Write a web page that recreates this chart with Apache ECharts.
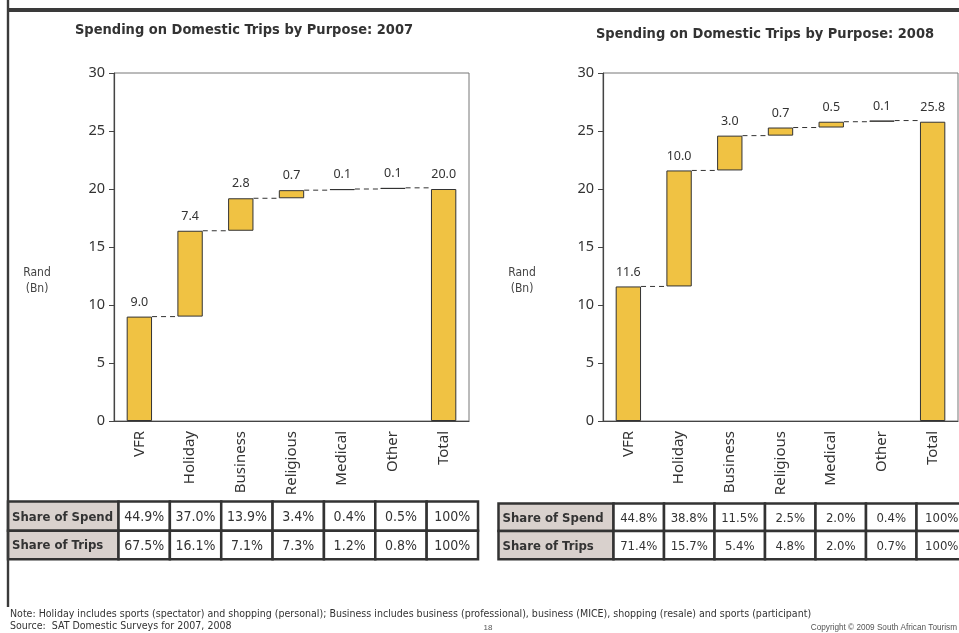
<!DOCTYPE html>
<html>
<head>
<meta charset="utf-8">
<script src="https://cdn.jsdelivr.net/npm/echarts@6/dist/echarts.min.js"></script>
<style>
  html, body { margin: 0; padding: 0; background: #fff; }
  #chart { width: 959px; height: 633px; }
</style>
</head>
<body>
<div id="chart"></div>
<script>
// Spending by trip purpose (Rand, billions)
const categories = ['VFR', 'Holiday', 'Business', 'Religious', 'Medical', 'Other', 'Total'];
const spend2007 = [9.0, 7.4, 2.8, 0.7, 0.1, 0.1, 20.0];
const spend2008 = [11.6, 10.0, 3.0, 0.7, 0.5, 0.1, 25.8];

// Share tables under each chart
const rowLabels = ['Share of Spend', 'Share of Trips'];
const shareSpend2007 = ['44.9%', '37.0%', '13.9%', '3.4%', '0.4%', '0.5%', '100%'];
const shareTrips2007 = ['67.5%', '16.1%', '7.1%', '7.3%', '1.2%', '0.8%', '100%'];
const shareSpend2008 = ['44.8%', '38.8%', '11.5%', '2.5%', '2.0%', '0.4%', '100%'];
const shareTrips2008 = ['71.4%', '15.7%', '5.4%', '4.8%', '2.0%', '0.7%', '100%'];

// Value axis
const yMin = 0, yMax = 30, yStep = 5;

const titles = ['Spending on Domestic Trips by Purpose: 2007', 'Spending on Domestic Trips by Purpose: 2008'];
const axisTitle = 'Rand\n(Bn)';
const noteText = 'Note: Holiday includes sports (spectator) and shopping (personal); Business includes business (professional), business (MICE), shopping (resale) and sports (participant)';
const sourceText = 'Source:  SAT Domestic Surveys for 2007, 2008';
const pageNo = '18';
const copyrightText = 'Copyright \u00A9 2009 South African Tourism';

const GOLD = '#F0C243';
const INK = '#333333';
const CJ = 'Noto Sans, sans-serif';
const TAH = '"DejaVu Sans Condensed", "DejaVu Sans", sans-serif';

// floating bases: each step starts where the previous ended; the total starts at zero
function bases(vals) {
  const out = [];
  let run = 0;
  vals.forEach((v, i) => {
    if (i === vals.length - 1) { out.push(0); return; }
    out.push(Math.round(run * 10) / 10);
    run += v;
  });
  return out;
}
function tops(vals) {
  const b = bases(vals);
  return vals.map((v, i) => Math.round((b[i] + v) * 10) / 10);
}

const grids = [
  { left: 114, top: 73, width: 355, height: 348 },
  { left: 603, top: 73, width: 355, height: 348 }
];

function xAxisFor(idx) {
  return {
    type: 'category', gridIndex: idx, data: categories,
    axisLine: { lineStyle: { color: '#444', width: 1.2 } },
    axisTick: { show: false },
    axisLabel: { rotate: 90, margin: 10, color: INK, fontFamily: CJ, fontSize: 15 }
  };
}
function yAxisFor(idx) {
  return {
    type: 'value', gridIndex: idx, min: yMin, max: yMax, interval: yStep,
    axisLine: { show: true, lineStyle: { color: '#444', width: 1.2 } },
    axisTick: { show: true, length: 5, lineStyle: { color: '#444' } },
    splitLine: { show: false },
    axisLabel: { margin: 9, color: INK, fontFamily: CJ, fontSize: 14.5 }
  };
}

function waterfall(vals, idx) {
  const b = bases(vals);
  const t = tops(vals);
  const connectors = t.slice(0, t.length - 1).map((lvl, i) => [i, lvl]);
  return [
    {
      type: 'bar', xAxisIndex: idx, yAxisIndex: idx, stack: 'w' + idx, silent: true,
      barWidth: '50%', itemStyle: { color: 'transparent' }, data: b
    },
    {
      type: 'bar', xAxisIndex: idx, yAxisIndex: idx, stack: 'w' + idx,
      barWidth: '50%',
      itemStyle: { color: GOLD, borderColor: INK, borderWidth: 1 },
      label: {
        show: true, position: 'top', distance: 8, color: INK,
        fontFamily: CJ, fontSize: 12.5,
        formatter: p => Number(p.value).toFixed(1)
      },
      data: vals
    },
    {
      type: 'custom', xAxisIndex: idx, yAxisIndex: idx, silent: true, z: 5,
      data: connectors,
      renderItem: function (params, api) {
        const p = api.coord([api.value(0), api.value(1)]);
        const band = api.size([1, 0])[0];
        const half = band * 0.25;
        return {
          type: 'line',
          shape: { x1: p[0] + half, y1: p[1], x2: p[0] + band - half, y2: p[1] },
          style: { stroke: INK, lineWidth: 1, lineDash: [5, 4] }
        };
      }
    }
  ];
}

// share tables drawn as cells
function table(x0, headW, colW, ys, rows, dataSize) {
  const els = [];
  rows.forEach((row, r) => {
    const y = ys[r], h = ys[r + 1] - ys[r];
    els.push({ type: 'rect', shape: { x: x0, y: y, width: headW, height: h },
      style: { fill: '#D9D1CD', stroke: INK, lineWidth: 2.5 }, z: 10 });
    els.push({ type: 'text', x: x0 + 4, y: y + h / 2 + 1, z: 11,
      style: { text: rowLabels[r], fill: INK, font: 'bold 13px ' + TAH,
        textAlign: 'left', textVerticalAlign: 'middle' } });
    row.forEach((val, c) => {
      const cx = x0 + headW + c * colW;
      els.push({ type: 'rect', shape: { x: cx, y: y, width: colW, height: h },
        style: { fill: '#fff', stroke: INK, lineWidth: 2.5 }, z: 10 });
      els.push({ type: 'text', x: cx + colW / 2, y: y + h / 2 + 1, z: 11,
        style: { text: val, fill: INK, font: dataSize + 'px ' + TAH,
          textAlign: 'center', textVerticalAlign: 'middle' } });
    });
  });
  return els;
}

const graphics = [
  // page frame
  { type: 'rect', shape: { x: 7, y: 8, width: 952, height: 4 }, style: { fill: '#3a3a3a' }, z: 20 },
  { type: 'rect', shape: { x: 6.8, y: 0, width: 2.4, height: 607 }, style: { fill: '#3a3a3a' }, z: 20 },
  // titles
  { type: 'text', x: 244, y: 30, style: { text: titles[0], fill: INK, font: 'bold 14.5px ' + TAH, textAlign: 'center', textVerticalAlign: 'middle' } },
  { type: 'text', x: 765, y: 34, style: { text: titles[1], fill: INK, font: 'bold 14.5px ' + TAH, textAlign: 'center', textVerticalAlign: 'middle' } },
  // axis titles
  { type: 'text', x: 37, y: 281, style: { text: axisTitle, fill: '#444', font: '12px ' + TAH, textAlign: 'center', textVerticalAlign: 'middle', lineHeight: 16 } },
  { type: 'text', x: 522, y: 281, style: { text: axisTitle, fill: '#444', font: '12px ' + TAH, textAlign: 'center', textVerticalAlign: 'middle', lineHeight: 16 } },
  // footer
  { type: 'text', x: 10, y: 614, style: { text: noteText, fill: INK, font: '10.55px ' + TAH, textAlign: 'left', textVerticalAlign: 'middle' } },
  { type: 'text', x: 10, y: 626, style: { text: sourceText, fill: INK, font: '10.55px ' + TAH, textAlign: 'left', textVerticalAlign: 'middle' } },
  { type: 'text', x: 488, y: 628, style: { text: pageNo, fill: '#555', font: '8px "Liberation Sans", Arial, sans-serif', textAlign: 'center', textVerticalAlign: 'middle' } },
  { type: 'text', x: 957, y: 628, style: { text: copyrightText, fill: '#555', font: '8.2px "Liberation Sans", Arial, sans-serif', textAlign: 'right', textVerticalAlign: 'middle' } }
]
  .concat(table(8, 110.5, 51.36, [501.5, 530.75, 559.25], [shareSpend2007, shareTrips2007], 14))
  .concat(table(498.5, 115, 50.5, [503.5, 531, 559.25], [shareSpend2008, shareTrips2008], 13));

const chart = echarts.init(document.getElementById('chart'), null, { renderer: 'canvas' });
chart.setOption({
  animation: false,
  backgroundColor: '#fff',
  grid: grids.map(g => Object.assign({ show: true, borderColor: '#777', borderWidth: 1, backgroundColor: 'transparent' }, g)),
  xAxis: [xAxisFor(0), xAxisFor(1)],
  yAxis: [yAxisFor(0), yAxisFor(1)],
  series: waterfall(spend2007, 0).concat(waterfall(spend2008, 1)),
  graphic: graphics
});
</script>
</body>
</html>
